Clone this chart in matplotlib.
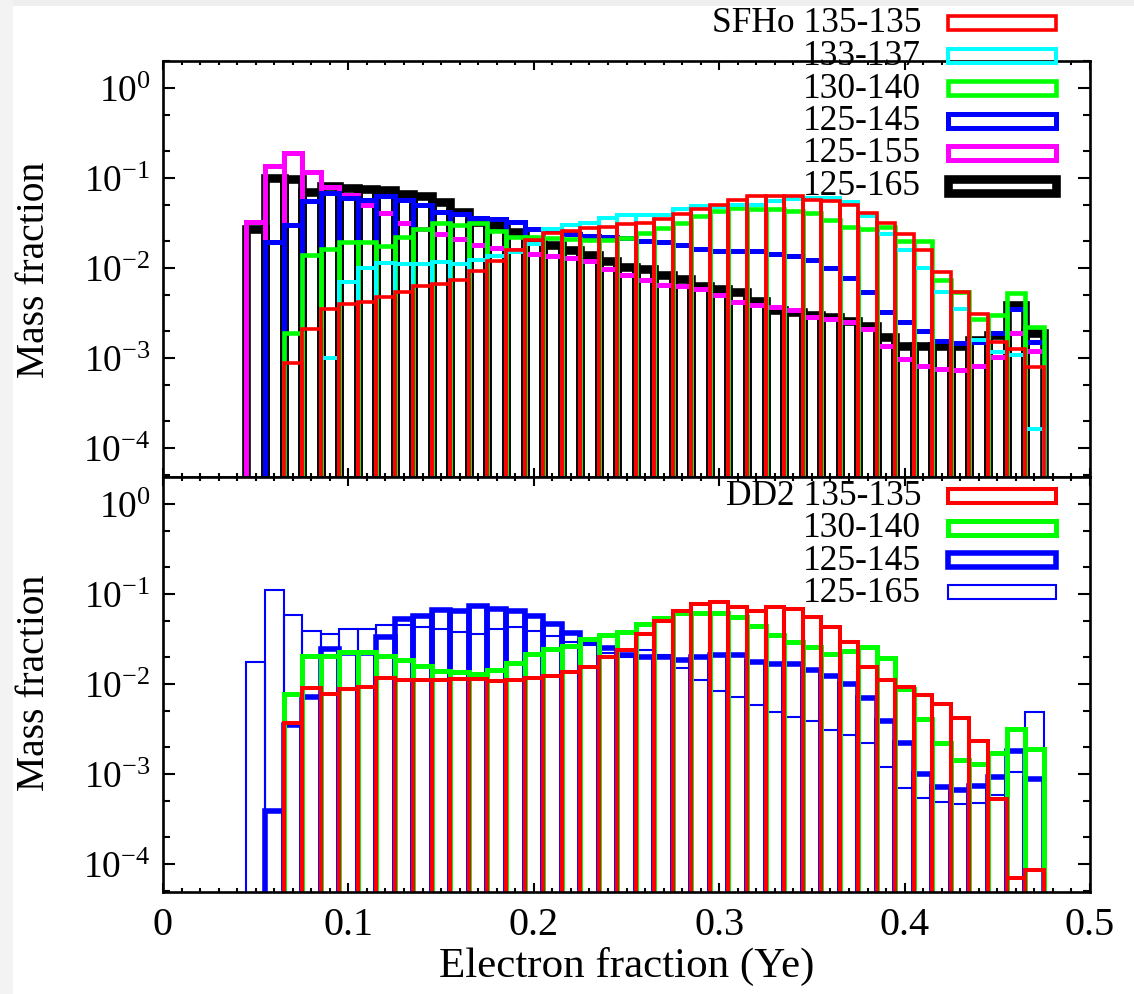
import numpy as np
import matplotlib
matplotlib.use("Agg")
import matplotlib.pyplot as plt
from matplotlib.patches import Rectangle
from matplotlib.ticker import LogLocator, NullFormatter, FixedLocator, MultipleLocator

plt.rcParams['font.family'] = ['Liberation Serif', 'DejaVu Serif']
plt.rcParams['mathtext.fontset'] = 'custom'
plt.rcParams['mathtext.rm'] = 'Liberation Serif'

# ---------------- data ----------------
bin_width = 0.01
ye_centers = np.round(0.05 + 0.01 * np.arange(43), 3)   # bins 0.045..0.475
N = None

# top panel (SFHo)
sfho_125_165 = [0.027, 0.10, 0.097, 0.071, 0.082, 0.078, 0.076, 0.074, 0.066, 0.063,
                0.055, 0.042, 0.033, 0.030, 0.025, 0.020, 0.018, 0.016, 0.014, 0.012,
                0.0102, 0.0097, 0.0083, 0.0076, 0.0064, 0.0059, 0.0055, 0.0043, 0.0034, 0.0033,
                0.0030, 0.0029, 0.0026, 0.0023, 0.0017, 0.00138, 0.00135, 0.00135, 0.00135, 0.0016,
                0.0018, 0.0039, 0.0019]
sfho_125_155 = [0.0324, 0.138, 0.189, 0.118, 0.079, 0.065, 0.050, 0.041, 0.032, 0.027,
                0.024, 0.021, 0.0183, 0.0168, 0.016, 0.0144, 0.0135, 0.013, 0.012, 0.0097,
                0.0083, 0.0073, 0.0065, 0.0063, 0.0058, 0.0050, 0.0042, 0.00385, 0.0037, 0.0034,
                0.0029, 0.0027, 0.0025, 0.0021, 0.00136, 0.00098, 0.00081, 0.00076, 0.00074, 0.00082,
                0.00102, 0.0019, 0.0012]
sfho_125_145 = [N, 0.0194, 0.030, 0.056, 0.068, 0.060, 0.058, 0.063, 0.058, 0.050,
                0.042, 0.040, 0.036, 0.035, 0.033, 0.0275, 0.026, 0.024, 0.023, 0.022,
                0.0215, 0.020, 0.0195, 0.018, 0.0164, 0.0157, 0.0155, 0.0155, 0.0143, 0.0136,
                0.0122, 0.010, 0.0078, 0.0054, 0.0033, 0.0025, 0.0020, 0.00155, 0.00148, 0.0015,
                0.0019, 0.0035, 0.0015]
sfho_130_140 = [N, N, 0.0019, 0.014, 0.0164, 0.0194, 0.0196, 0.0178, 0.0224, 0.0274,
                0.032, 0.030, 0.032, 0.026, 0.022, 0.022, 0.0215, 0.021, 0.0204, 0.0204,
                0.0216, 0.0243, 0.028, 0.032, 0.038, 0.043, 0.047, 0.046, 0.045, 0.043,
                0.041, 0.034, 0.0285, 0.027, 0.029, 0.020, 0.020, 0.0073, 0.0055, 0.0027,
                0.0030, 0.0053, 0.0022]
sfho_133_137 = [N, N, N, N, 0.001, 0.0071, 0.010, 0.0115, 0.011, 0.011,
                0.0116, 0.0112, 0.0123, 0.0135, 0.0150, 0.0186, 0.027, 0.030, 0.032, 0.036,
                0.039, 0.039, 0.039, 0.045, 0.049, 0.048, 0.050, 0.051, 0.056, 0.059,
                0.061, 0.060, 0.055, 0.038, 0.024, 0.0158, 0.010, 0.0055, 0.0035, 0.0016,
                0.00117, 0.00108, 0.000165]
sfho_135_135 = [N, N, 0.00088, 0.0021, 0.0035, 0.0040, 0.0042, 0.0048, 0.0055, 0.0063,
                0.0067, 0.0073, 0.0094, 0.012, 0.016, 0.0204, 0.0246, 0.026, 0.028, 0.029,
                0.031, 0.032, 0.035, 0.040, 0.046, 0.051, 0.057, 0.064, 0.064, 0.064,
                0.058, 0.056, 0.050, 0.041, 0.032, 0.024, 0.016, 0.0091, 0.0054, 0.0031,
                0.0015, 0.00125, 0.00080]

# bottom panel (DD2)
dd2_125_165 = [0.0176, 0.111, 0.058, 0.039, 0.036, 0.041, 0.041, 0.045, 0.045, 0.043,
               0.041, 0.038, 0.036, 0.041, 0.043, 0.039, 0.034, 0.029, 0.027, 0.022,
               0.020, 0.024, 0.021, 0.015, 0.011, 0.0083, 0.0071, 0.0058, 0.0049, 0.0043,
               0.0039, 0.0031, 0.0027, 0.0022, 0.0012, 0.00069, 0.00054, 0.00049, 0.00046, 0.00047,
               0.00058, 0.00104, 0.0049]
dd2_125_145 = [N, 0.00039, 0.0035, 0.0071, 0.0243, 0.022, 0.022, 0.033, 0.053, 0.057,
               0.067, 0.065, 0.074, 0.069, 0.065, 0.057, 0.047, 0.037, 0.029, 0.025,
               0.021, 0.020, 0.020, 0.0187, 0.020, 0.021, 0.021, 0.0174, 0.0165, 0.0165,
               0.0144, 0.0124, 0.010, 0.0070, 0.0039, 0.0022, 0.0010, 0.00071, 0.00067, 0.00073,
               0.00092, 0.0018, 0.00089]
dd2_130_140 = [N, N, 0.0077, 0.0207, 0.0207, 0.0225, 0.0225, 0.0207, 0.0186, 0.016,
               0.014, 0.0135, 0.013, 0.0144, 0.0173, 0.0215, 0.0245, 0.0266, 0.032, 0.035,
               0.0376, 0.046, 0.054, 0.061, 0.062, 0.062, 0.056, 0.044, 0.035, 0.029,
               0.0256, 0.0215, 0.023, 0.0256, 0.0194, 0.0087, 0.0041, 0.0022, 0.00143, 0.0013,
               0.0017, 0.0032, 0.0019]
dd2_135_135 = [N, N, 0.0037, 0.0090, 0.0078, 0.0088, 0.0093, 0.0116, 0.0112, 0.0112,
               0.0112, 0.0114, 0.0114, 0.0107, 0.011, 0.0116, 0.0122, 0.0137, 0.0153, 0.020,
               0.024, 0.036, 0.0506, 0.064, 0.077, 0.082, 0.071, 0.065, 0.072, 0.069,
               0.056, 0.043, 0.029, 0.0155, 0.011, 0.0092, 0.0076, 0.0060, 0.0042, 0.0023,
               0.00053, 0.00007, 0.000085]

top_labels = ["SFHo 135-135", "133-137", "130-140", "125-145", "125-155", "125-165"]
bot_labels = ["DD2 135-135", "130-140", "125-145", "125-165"]
x_ticks = [0, 0.1, 0.2, 0.3, 0.4, 0.5]
x_tick_labels = ["0", "0.1", "0.2", "0.3", "0.4", "0.5"]
y_ticks = [1e-4, 1e-3, 1e-2, 1e-1, 1e0]
y_tick_labels = [r"$\mathregular{10^{-4}}$", r"$\mathregular{10^{-3}}$", r"$\mathregular{10^{-2}}$",
                 r"$\mathregular{10^{-1}}$", r"$\mathregular{10^{0}}$"]

# ---------------- figure ----------------
FW, FH = 1134, 995
fig = plt.figure(figsize=(FW / 100, FH / 100), dpi=100)

def fx(px):
    return px / FW

def fy(py):
    return 1 - py / FH

# screenshot margins (light grey strips at top and left)
fig.patches.append(Rectangle((0, fy(7)), 1, 7 / FH, transform=fig.transFigure,
                             facecolor='#efefef', edgecolor='none', zorder=0))
fig.patches.append(Rectangle((0, 0), fx(13), 1, transform=fig.transFigure,
                             facecolor='#f3f3f3', edgecolor='none', zorder=0))

L, R = fx(163), fx(1090)
ax_top = fig.add_axes([L, fy(477.5), R - L, fy(61.7) - fy(477.5)])
ax_bot = fig.add_axes([L, fy(893.3), R - L, fy(477.5) - fy(893.3)])

YLIM = (10 ** -4.315, 10 ** 0.306)

def draw_hist(ax, vals, color, lw, z):
    v = np.array([np.nan if a is None else a for a in vals], dtype=float)
    m = ~np.isnan(v)
    ax.bar(ye_centers[m], v[m], width=bin_width, bottom=1e-8, fill=False,
           edgecolor=color, linewidth=lw, joinstyle='miter', zorder=z, align='center')

# top panel: draw order back to front
top_series = [
    (sfho_125_165, 'black', 6.2),
    (sfho_125_155, '#ff00ff', 3.6),
    (sfho_125_145, '#0000ff', 3.6),
    (sfho_130_140, '#00ff00', 3.3),
    (sfho_133_137, '#00ffff', 2.9),
    (sfho_135_135, '#ff0000', 2.6),
]
for i, (vals, c, lw) in enumerate(top_series):
    draw_hist(ax_top, vals, c, lw, 1 + i * 0.01)

bot_series = [
    (dd2_125_165, '#0000ff', 1.5),
    (dd2_125_145, '#0000ff', 4.0),
    (dd2_130_140, '#00ff00', 3.6),
    (dd2_135_135, '#ff0000', 2.9),
]
for i, (vals, c, lw) in enumerate(bot_series):
    draw_hist(ax_bot, vals, c, lw, 1 + i * 0.01)

for ax in (ax_top, ax_bot):
    ax.set_yscale('log')
    ax.set_xlim(0, 0.5)
    ax.set_ylim(*YLIM)
    ax.xaxis.set_major_locator(FixedLocator(x_ticks))
    ax.xaxis.set_minor_locator(MultipleLocator(0.01))
    ax.yaxis.set_major_locator(FixedLocator(y_ticks))
    ax.yaxis.set_minor_locator(LogLocator(base=10, subs=(2.0, 5.0), numticks=20))
    ax.yaxis.set_minor_formatter(NullFormatter())
    ax.set_yticklabels(y_tick_labels)
    ax.tick_params(axis='both', which='both', direction='in', top=True, right=True, width=1.5)
    ax.tick_params(axis='x', which='major', length=6.5)
    ax.tick_params(axis='x', which='minor', length=3)
    ax.tick_params(axis='y', which='major', length=8.5, pad=9, labelsize=27)
    ax.tick_params(axis='y', which='minor', length=5)
    ax.tick_params(axis='x', labelsize=29)
    for s in ax.spines.values():
        s.set_linewidth(1.9)

ax_top.set_xticklabels([])
ax_bot.set_xticklabels(x_tick_labels)
ax_bot.tick_params(axis='x', pad=10)

# axis labels
fig.text(fx(35), fy(270), "Mass fraction", rotation=90, ha='center', va='center', fontsize=28.5)
fig.text(fx(35), fy(683), "Mass fraction", rotation=90, ha='center', va='center', fontsize=28.5)
fig.text(fx(627), fy(966), "Electron fraction (Ye)", ha='center', va='center', fontsize=31)

# legends (manual, partly outside the frame as in the original)
def legend_rows(labels, series, y0, dy):
    for j, (lab, (vals, c, lw)) in enumerate(zip(labels, series)):
        yc = y0 + j * dy
        fig.text(fx(921), fy(yc), lab, ha='right', va='center', fontsize=25.5, zorder=5)
        w, h = 108, 14
        fig.patches.append(Rectangle((fx(1001.5 - w / 2), fy(yc + h / 2)), fx(w), h / FH,
                                     transform=fig.transFigure, fill=False, edgecolor=c,
                                     linewidth=lw, joinstyle='miter', zorder=5))

legend_rows(top_labels, top_series[::-1], 24, 32.5)
legend_rows(bot_labels, bot_series[::-1], 496.5, 32.3)

fig.savefig("out.png", dpi=100)
